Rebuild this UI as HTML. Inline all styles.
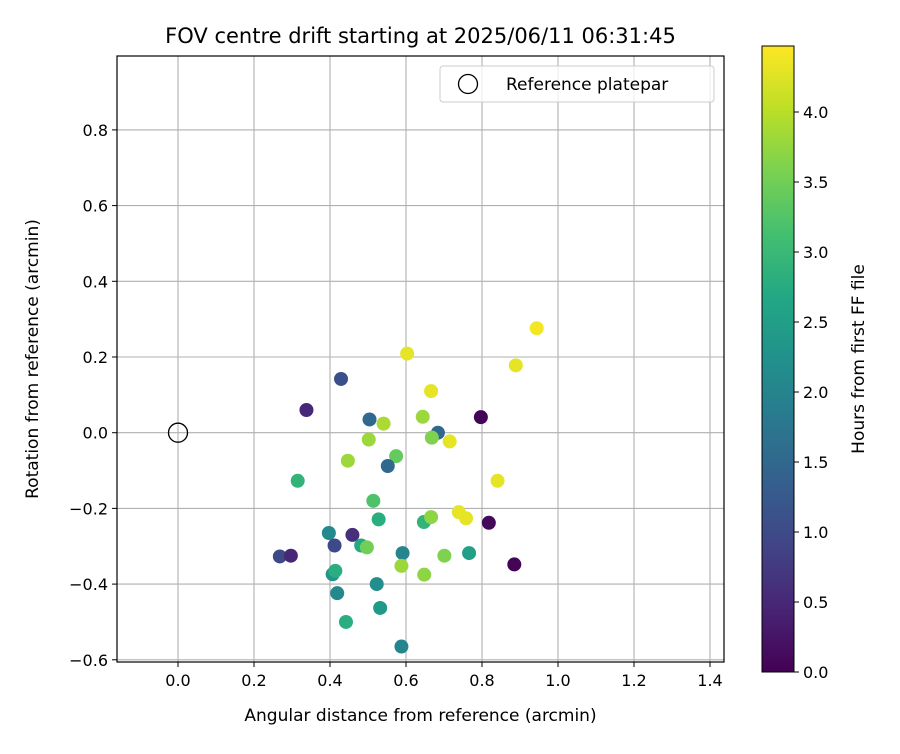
<!DOCTYPE html>
<html><head><meta charset="utf-8"><style>
body{margin:0;background:#fff;font-family:"DejaVu Sans","Liberation Sans",sans-serif}
svg text{font-family:"DejaVu Sans","Liberation Sans",sans-serif;fill:#000}
</style></head><body>
<svg id="chart" width="900" height="750" xmlns="http://www.w3.org/2000/svg">
<defs><linearGradient id="vir" x1="0" y1="1" x2="0" y2="0"></linearGradient>
<clipPath id="clip"><rect x="117" y="56" width="607" height="606"/></clipPath></defs>
<g id="grid"></g>
<g id="points" clip-path="url(#clip)"></g>
<rect x="117" y="56" width="607" height="606" fill="none" stroke="#000" stroke-width="1.2"/>
<g id="ticks"></g>
<text x="420.5" y="43" font-size="21" text-anchor="middle">FOV centre drift starting at 2025/06/11 06:31:45</text>
<text x="420.5" y="721" font-size="17" text-anchor="middle">Angular distance from reference (arcmin)</text>
<text transform="translate(38,359) rotate(-90)" font-size="17" text-anchor="middle">Rotation from reference (arcmin)</text>
<g>
<rect x="440" y="66" width="274" height="36" rx="3" fill="#fff" fill-opacity="0.8" stroke="#ccc"/>
<circle cx="468" cy="84" r="9.5" fill="none" stroke="#000" stroke-width="1.3"/>
<text x="506" y="90" font-size="17">Reference platepar</text>
</g>
<g id="cbar">
<rect x="762" y="46" width="32" height="626" fill="url(#vir)" stroke="#000" stroke-width="1"/>
</g>
<text transform="translate(864,359) rotate(-90)" font-size="17" text-anchor="middle">Hours from first FF file</text>
</svg>
<script>
const xVals=[0.944,0.603,0.889,0.429,0.666,0.338,0.797,0.504,0.541,0.644,0.684,0.668,0.502,0.715,0.574,0.447,0.552,0.315,0.841,0.514,0.739,0.758,0.528,0.647,0.666,0.818,0.397,0.459,0.412,0.482,0.497,0.591,0.701,0.766,0.268,0.297,0.885,0.588,0.648,0.407,0.414,0.523,0.419,0.532,0.442,0.588];
const yVals=[0.276,0.209,0.178,0.142,0.110,0.060,0.041,0.035,0.024,0.042,0.000,-0.013,-0.018,-0.023,-0.062,-0.074,-0.088,-0.127,-0.127,-0.180,-0.210,-0.226,-0.229,-0.236,-0.223,-0.238,-0.265,-0.270,-0.298,-0.298,-0.303,-0.318,-0.325,-0.318,-0.327,-0.325,-0.348,-0.352,-0.375,-0.374,-0.365,-0.400,-0.424,-0.463,-0.500,-0.565];
const hours=[4.4,4.3,4.3,1.1,4.3,0.5,0.05,1.5,3.9,3.8,1.5,3.6,3.8,4.3,3.4,3.8,1.5,2.9,4.3,3.2,4.3,4.3,2.8,2.9,3.7,0.1,2.1,0.6,1.0,2.7,3.5,2.0,3.6,2.5,1.0,0.5,0.05,3.8,3.7,2.3,2.8,2.2,2.1,2.4,2.8,2.0];
const xTicks=[0.0,0.2,0.4,0.6,0.8,1.0,1.2,1.4];
const yTicks=[-0.6,-0.4,-0.2,0.0,0.2,0.4,0.6,0.8];
const cTicks=[0.0,0.5,1.0,1.5,2.0,2.5,3.0,3.5,4.0];
const hMax=4.47;
const NS="http://www.w3.org/2000/svg";
const X=v=>178+v*380, Y=v=>432.7-v*378.5, C=h=>672-h*140;
const stops=["#440154","#482475","#414487","#355f8d","#2a788e","#21918c","#22a884","#44bf70","#7ad151","#bddf26","#fde725"];
function hex(c){return [1,3,5].map(i=>parseInt(c.substr(i,2),16));}
function vir(t){t=Math.max(0,Math.min(1,t));const p=t*10,i=Math.min(9,Math.floor(p)),f=p-i;const a=hex(stops[i]),b=hex(stops[i+1]);return "rgb("+a.map((v,k)=>Math.round(v+(b[k]-v)*f)).join(",")+")";}
function mk(tag,attrs,parent){const e=document.createElementNS(NS,tag);for(const k in attrs)e.setAttribute(k,attrs[k]);parent.appendChild(e);return e;}
const grad=document.getElementById('vir');
stops.forEach((s,i)=>mk('stop',{offset:(i/10),'stop-color':s},grad));
const grid=document.getElementById('grid'),ticks=document.getElementById('ticks'),pts=document.getElementById('points'),cb=document.getElementById('cbar');
xTicks.forEach(v=>{
 const l=mk('line',{x1:X(v),x2:X(v),y1:56,y2:662,stroke:'#b0b0b0','stroke-width':1.1},grid);
 
 
 mk('line',{x1:X(v),x2:X(v),y1:662,y2:667,stroke:'#000'},ticks);
 const t=mk('text',{x:X(v),y:686,'font-size':16,'text-anchor':'middle'},ticks);t.textContent=v.toFixed(1);
 
 
});
yTicks.forEach(v=>{
 const l=mk('line',{x1:117,x2:724,y1:Y(v),y2:Y(v),stroke:'#b0b0b0','stroke-width':1.1},grid);
 
 
 mk('line',{x1:112,x2:117,y1:Y(v),y2:Y(v),stroke:'#000'},ticks);
 const t=mk('text',{x:108,y:Y(v)+6,'font-size':16,'text-anchor':'end'},ticks);t.textContent=(v<0?'\u2212'+(-v).toFixed(1):v.toFixed(1));
 
 
});
xVals.forEach((x,i)=>{
 const c=mk('circle',{cx:X(x),cy:Y(yVals[i]),r:7,fill:vir(hours[i]/hMax)},pts);
 
 
});
const ref=mk('circle',{cx:X(0),cy:Y(0),r:9.5,fill:'none',stroke:'#000','stroke-width':1.3},pts);


cTicks.forEach(v=>{
 mk('line',{x1:794,x2:799,y1:C(v),y2:C(v),stroke:'#000'},cb);
 const t=mk('text',{x:803,y:C(v)+6,'font-size':16},cb);t.textContent=v.toFixed(1);
 
 
});
</script>
</body></html>
